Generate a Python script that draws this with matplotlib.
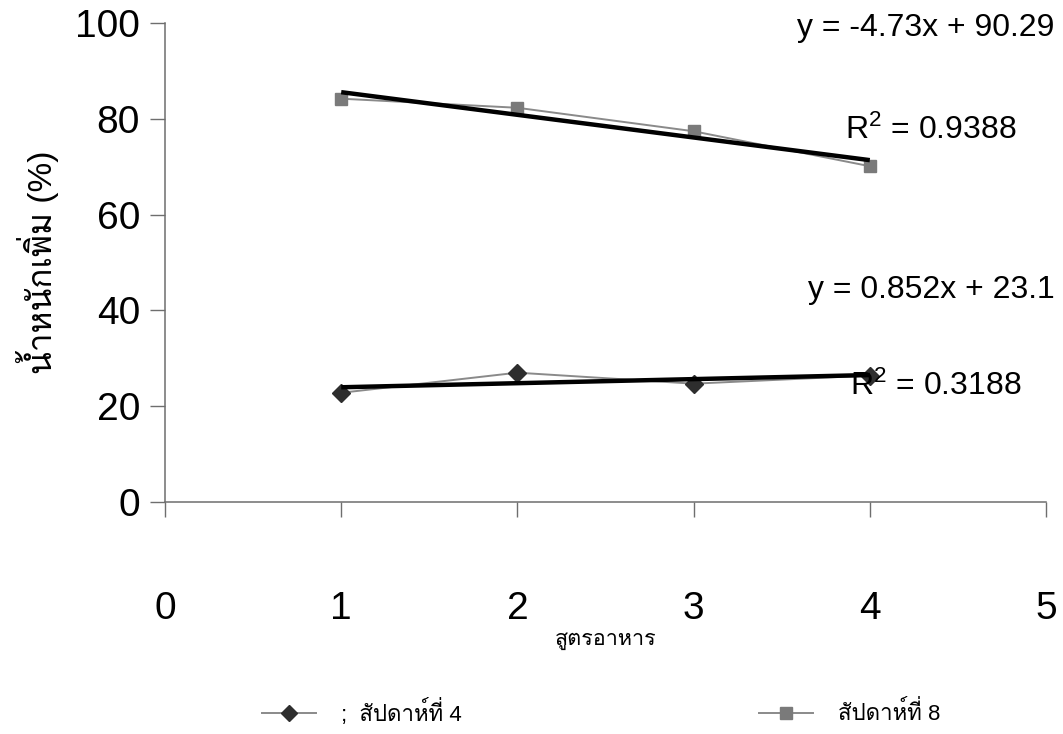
import numpy as np
import matplotlib
matplotlib.use("Agg")
import matplotlib.pyplot as plt
from matplotlib.lines import Line2D

plt.rcParams["font.family"] = ["Liberation Sans", "Loma", "DejaVu Sans"]
plt.rcParams["mathtext.fontset"] = "custom"
plt.rcParams["mathtext.rm"] = "Liberation Sans"
plt.rcParams["mathtext.it"] = "Liberation Sans"

# ---- data ----
formulas = [1, 2, 3, 4]                       # สูตรอาหาร
week4 = [22.8, 27.0, 24.7, 26.4]              # สัปดาห์ที่ 4
week8 = [84.2, 82.3, 77.4, 70.1]              # สัปดาห์ที่ 8
week4_fit = (0.852, 23.1)                     # slope, intercept
week8_fit = (-4.73, 90.29)
week4_r2 = 0.3188
week8_r2 = 0.9388
series_labels = [";  สัปดาห์ที่ 4", "สัปดาห์ที่ 8"]
x_ticks = [0, 1, 2, 3, 4, 5]
y_ticks = [0, 20, 40, 60, 80, 100]
x_title = "สูตรอาหาร"
y_title = "น้ำหนักเพิ่ม (%)"

W, H = 1063, 734
fig = plt.figure(figsize=(W / 100, H / 100), dpi=100)
ax = fig.add_axes([165 / W, 1 - 502 / H, (1046 - 165) / W, (502 - 23) / H])

axis_col = "#6e6e6e"
line_col = "#8a8a8a"

x = np.array(formulas, dtype=float)
ax.plot(x, week4, color=line_col, lw=1.4, marker="D", ms=9,
        mfc="#2e2e2e", mec="#2e2e2e", zorder=3)
ax.plot(x, week8, color=line_col, lw=1.4, marker="s", ms=9,
        mfc="#7a7a7a", mec="#7a7a7a", zorder=3)

# linear trend lines
xf = np.array([formulas[0], formulas[-1]], dtype=float)
for m, b in (week4_fit, week8_fit):
    ax.plot(xf, m * xf + b, color="black", lw=3.2, solid_capstyle="butt", zorder=4)

def eq_text(m, b):
    sign = "+" if b >= 0 else "-"
    return f"y = {m:g}x {sign} {abs(b):g}"

ax.text(5.05, 99.0, eq_text(*week8_fit), ha="right", va="center", fontsize=23, clip_on=False)
ax.text(3.86, 77.6, r"R$^{2}$ = " + f"{week8_r2:.4f}", ha="left", va="center", fontsize=23)
ax.text(5.05, 44.2, eq_text(*week4_fit), ha="right", va="center", fontsize=23, clip_on=False)
ax.text(3.89, 24.2, r"R$^{2}$ = " + f"{week4_r2:.4f}", ha="left", va="center", fontsize=23)

ax.set_xlim(0, 5)
ax.set_ylim(0, 100)
ax.set_xticks(x_ticks)
ax.set_yticks(y_ticks)
for s in ("top", "right"):
    ax.spines[s].set_visible(False)
for s in ("left", "bottom"):
    ax.spines[s].set_color(axis_col)
    ax.spines[s].set_linewidth(1.1)
ax.tick_params(axis="both", direction="out", length=11, width=1.0, color=axis_col,
               labelcolor="black")
ax.tick_params(axis="x", pad=53, labelsize=28)
ax.tick_params(axis="y", pad=7, labelsize=28)

ax.set_xlabel(x_title, fontsize=15.5)
ax.xaxis.set_label_coords(0.5, -0.288)
ax.xaxis.label.set_va("center")
ax.set_ylabel(y_title, fontsize=24)
ax.yaxis.set_label_coords(-0.145, 0.5)
ax.yaxis.label.set_va("center")

handles = [
    Line2D([], [], color=line_col, lw=1.4, marker="D", ms=8, mfc="#2e2e2e", mec="#2e2e2e"),
    Line2D([], [], color=line_col, lw=1.4, marker="s", ms=8, mfc="#7a7a7a", mec="#7a7a7a"),
]
fig.legend(handles, series_labels, loc="center", bbox_to_anchor=(601 / W, 1 - 712 / H),
           ncol=2, frameon=False, fontsize=16, handlelength=2.43, handletextpad=1.1,
           columnspacing=13.4, borderaxespad=0, borderpad=0)

fig.savefig("out.png", dpi=100)
